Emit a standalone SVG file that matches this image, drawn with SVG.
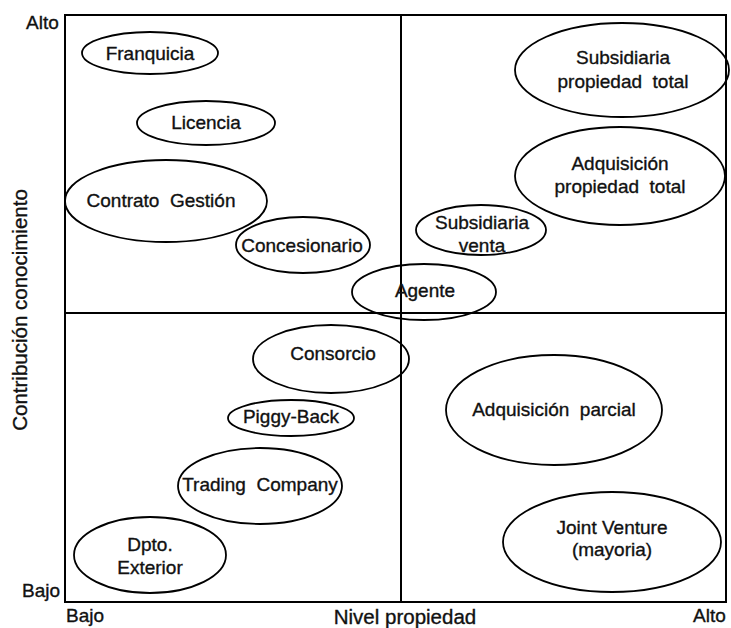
<svg xmlns="http://www.w3.org/2000/svg" width="731" height="628" viewBox="0 0 731 628">
  <style>
    .frame { fill: none; stroke: #000; stroke-width: 2; }
    .node ellipse { fill: none; stroke: #000; stroke-width: 1.8; }
    text { font-family: "Liberation Sans", Arial, sans-serif; font-size: 19px; fill: #111; stroke: #111; stroke-width: 0.35; }
    .node text { text-anchor: middle; }
    .axis { font-size: 19px; }
    .axis-title { font-size: 20.5px; text-anchor: middle; }
  </style>
  <rect width="731" height="628" fill="#fff"/>

  <!-- quadrant frame and dividers -->
  <g id="connectors">
    <rect class="frame" x="65" y="15" width="661" height="587"/>
    <line class="frame" x1="401" y1="15" x2="401" y2="602"/>
    <line class="frame" x1="65" y1="313" x2="726" y2="313"/>
  </g>

  <!-- axis labels -->
  <g id="axes">
    <text class="axis" x="26" y="29">Alto</text>
    <text class="axis" x="22" y="597">Bajo</text>
    <text class="axis" x="66" y="622">Bajo</text>
    <text class="axis" x="693" y="622">Alto</text>
    <text class="axis-title" x="405" y="624">Nivel propiedad</text>
    <text class="axis-title" transform="translate(27,310) rotate(-90)">Contribución conocimiento</text>
  </g>

  <g id="franquicia" class="node">
    <ellipse cx="150" cy="53" rx="68" ry="21"/>
    <text x="150" y="60">Franquicia</text>
  </g>
  <g id="licencia" class="node">
    <ellipse cx="206" cy="123" rx="69" ry="22"/>
    <text x="206" y="129">Licencia</text>
  </g>
  <g id="contrato-gestion" class="node">
    <ellipse cx="166" cy="201" rx="101" ry="41"/>
    <text x="161" y="207" xml:space="preserve">Contrato  Gestión</text>
  </g>
  <g id="concesionario" class="node">
    <ellipse cx="303" cy="245" rx="67" ry="28"/>
    <text x="302" y="252">Concesionario</text>
  </g>
  <g id="agente" class="node">
    <ellipse cx="424" cy="292" rx="72" ry="28"/>
    <text x="425" y="297">Agente</text>
  </g>
  <g id="subsidiaria-venta" class="node">
    <ellipse cx="481" cy="230" rx="65" ry="25"/>
    <text x="482" y="229">Subsidiaria</text>
    <text x="482" y="252">venta</text>
  </g>
  <g id="subsidiaria-propiedad-total" class="node">
    <ellipse cx="622" cy="70" rx="107" ry="47"/>
    <text x="623" y="64">Subsidiaria</text>
    <text x="623" y="88" xml:space="preserve">propiedad  total</text>
  </g>
  <g id="adquisicion-propiedad-total" class="node">
    <ellipse cx="620" cy="176" rx="105" ry="49"/>
    <text x="620" y="170">Adquisición</text>
    <text x="620" y="193" xml:space="preserve">propiedad  total</text>
  </g>
  <g id="consorcio" class="node">
    <ellipse cx="331" cy="359" rx="78" ry="34"/>
    <text x="333" y="360">Consorcio</text>
  </g>
  <g id="piggy-back" class="node">
    <ellipse cx="291" cy="418" rx="63" ry="18"/>
    <text x="291" y="423">Piggy-Back</text>
  </g>
  <g id="trading-company" class="node">
    <ellipse cx="260" cy="486" rx="82" ry="38"/>
    <text x="260" y="491" xml:space="preserve">Trading  Company</text>
  </g>
  <g id="dpto-exterior" class="node">
    <ellipse cx="150" cy="555" rx="76" ry="38"/>
    <text x="150" y="551">Dpto.</text>
    <text x="150" y="574">Exterior</text>
  </g>
  <g id="adquisicion-parcial" class="node">
    <ellipse cx="554" cy="410" rx="108" ry="55"/>
    <text x="554" y="416" xml:space="preserve">Adquisición  parcial</text>
  </g>
  <g id="joint-venture" class="node">
    <ellipse cx="612" cy="542" rx="109" ry="50"/>
    <text x="612" y="534">Joint Venture</text>
    <text x="612" y="556">(mayoria)</text>
  </g>
</svg>
